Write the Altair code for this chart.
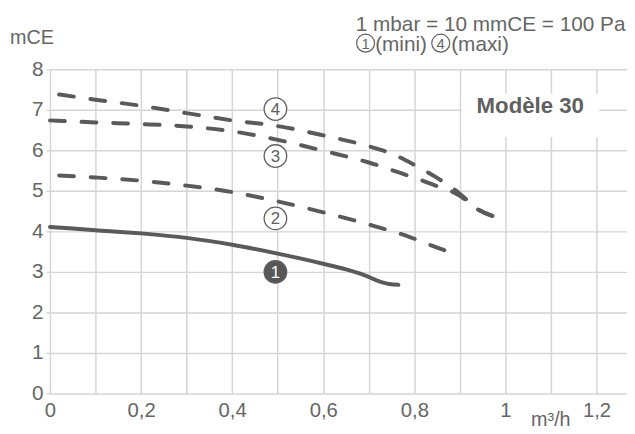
import altair as alt
import pandas as pd

# ---- curve data (débit m3/h, hauteur mCE) ----
c1_q = [0.0, 0.1, 0.2, 0.3, 0.4, 0.5, 0.6, 0.65, 0.69, 0.72, 0.745, 0.765]
c1_h = [4.11, 4.03, 3.95, 3.84, 3.67, 3.45, 3.20, 3.06, 2.92, 2.78, 2.70, 2.68]

c2_q = [0.02, 0.1, 0.2, 0.3, 0.4, 0.5, 0.6, 0.7, 0.79, 0.85, 0.875]
c2_h = [5.38, 5.33, 5.25, 5.13, 4.97, 4.74, 4.47, 4.17, 3.86, 3.60, 3.50]

c3_q = [0.0, 0.1, 0.2, 0.3, 0.4, 0.5, 0.6, 0.7, 0.78, 0.84, 0.9, 0.94, 0.98]
c3_h = [6.74, 6.69, 6.65, 6.59, 6.47, 6.26, 5.99, 5.70, 5.40, 5.16, 4.88, 4.54, 4.35]

c4_q = [0.02, 0.1, 0.2, 0.3, 0.4, 0.5, 0.6, 0.7, 0.75, 0.8, 0.85, 0.9, 0.94, 0.98]
c4_h = [7.38, 7.25, 7.10, 6.92, 6.74, 6.60, 6.37, 6.10, 5.92, 5.64, 5.32, 4.93, 4.54, 4.35]

# ---- axis ticks ----
x_ticks = [0, 0.1, 0.2, 0.3, 0.4, 0.5, 0.6, 0.7, 0.8, 0.9, 1.0, 1.1, 1.2]
y_ticks = [0, 1, 2, 3, 4, 5, 6, 7, 8]

# ---- curve number badges ----
badge_num = ["4", "3", "2", "1"]
badge_q = [0.495, 0.495, 0.495, 0.495]
badge_h = [7.02, 5.86, 4.32, 3.00]
badge_fill = ["white", "white", "white", "#575757"]
badge_text = ["#606060", "#606060", "#606060", "white"]

# ---- legend (top) ----
leg_num = ["1", "4"]
leg_q = [0.693, 0.858]
leg_words = ["(mini)", "(maxi)"]
leg_word_q = [0.714, 0.881]
leg_h = 8.646
unit_text = "1 mbar = 10 mmCE = 100 Pa"

model_text = "Modèle 30"

FONT = "Liberation Sans"
GREY = "#666666"
LINE = "#5a5a5a"
GRID = "#d5d5d5"

rows = []
for name, qs, hs in [("1", c1_q, c1_h), ("2", c2_q, c2_h), ("3", c3_q, c3_h), ("4", c4_q, c4_h)]:
    for q, h in zip(qs, hs):
        rows.append({"curve": name, "q": q, "h": h})
curves = pd.DataFrame(rows)

xs = alt.Scale(domain=[0, 1.267], nice=False, zero=False)
ys = alt.Scale(domain=[0, 8], nice=False, zero=False)

x_axis = alt.Axis(
    values=x_ticks,
    labelExpr="round(datum.value*10) % 2 == 0 ? replace(format(datum.value, '.1~f'), '.', ',') : ''",
    grid=True, gridColor=GRID, gridWidth=1.5,
    ticks=False, tickSize=0, domain=False,
    labelFont=FONT, labelFontSize=20.5, labelColor=GREY,
    labelPadding=7, labelFlush=False, labelOverlap=False, title=None,
)
y_axis = alt.Axis(
    values=y_ticks, format="d",
    grid=True, gridColor=GRID, gridWidth=1.5,
    ticks=True, tickSize=4, tickColor=GRID, tickWidth=1.5, domain=False,
    labelFont=FONT, labelFontSize=21, labelColor=GREY,
    labelPadding=3, labelFlush=False, labelOverlap=False, title=None,
)


def X(field):
    return alt.X(field, scale=xs, axis=x_axis, title=None)


def Y(field):
    return alt.Y(field, scale=ys, axis=y_axis, title=None)


solid = alt.Chart(curves[curves.curve == "1"]).mark_line(
    interpolate="monotone", strokeWidth=4, color=LINE, strokeCap="round"
).encode(x=X("q:Q"), y=Y("h:Q"), order="q:Q")

dashed = alt.Chart(curves[curves.curve != "1"]).mark_line(
    interpolate="monotone", strokeWidth=4, color=LINE, strokeCap="round",
    strokeDash=[15, 17]
).encode(x=X("q:Q"), y=Y("h:Q"), detail="curve:N", order="q:Q")

# white box behind the model name
box = pd.DataFrame({"q1": [0.904], "q2": [1.206], "h1": [6.33], "h2": [7.40]})
box_layer = alt.Chart(box).mark_rect(fill="white").encode(
    x=X("q1:Q"), x2="q2", y=Y("h1:Q"), y2="h2",
)

model = pd.DataFrame({"q": [1.0546], "h": [7.085], "t": [model_text]})
model_layer = alt.Chart(model).mark_text(
    font=FONT, fontSize=22.5, fontWeight="bold", color="#606060", baseline="middle", align="center"
).encode(x=X("q:Q"), y=Y("h:Q"), text="t:N")

badges = pd.DataFrame({"n": badge_num, "q": badge_q, "h": badge_h, "fill": badge_fill, "tc": badge_text})
badge_circles = alt.Chart(badges).mark_point(
    shape="circle", filled=True, size=520, stroke="#606060", strokeWidth=1.3, opacity=1
).encode(x=X("q:Q"), y=Y("h:Q"), fill=alt.Fill("fill:N", scale=None))
badge_digits = alt.Chart(badges).mark_text(
    font=FONT, fontSize=17, baseline="middle", align="center", dy=1
).encode(x=X("q:Q"), y=Y("h:Q"), text="n:N", color=alt.Color("tc:N", scale=None))

legc = pd.DataFrame({"n": leg_num, "q": leg_q, "h": [leg_h, leg_h]})
leg_circles = alt.Chart(legc).mark_point(
    shape="circle", filled=True, size=330, fill="white", stroke="#606060", strokeWidth=1.2, opacity=1
).encode(x=X("q:Q"), y=Y("h:Q"))
leg_digits = alt.Chart(legc).mark_text(
    font=FONT, fontSize=15, baseline="middle", align="center", color=GREY, dy=1
).encode(x=X("q:Q"), y=Y("h:Q"), text="n:N")

legw = pd.DataFrame({"t": leg_words, "q": leg_word_q, "h": [leg_h, leg_h]})
leg_words_layer = alt.Chart(legw).mark_text(
    font=FONT, fontSize=21, baseline="middle", align="left", color=GREY, dy=2
).encode(x=X("q:Q"), y=Y("h:Q"), text="t:N")

note_unit_df = pd.DataFrame({"t": [unit_text], "q": [1.2636], "h": [9.10]})
note_mce_df = pd.DataFrame({"t": ["mCE"], "q": [-0.0879], "h": [8.77]})
note_flow_df = pd.DataFrame({"t": ["m³/h"], "q": [1.0998], "h": [-0.66]})

note_unit = alt.Chart(note_unit_df).mark_text(
    font=FONT, fontSize=21, baseline="middle", align="right", color=GREY
).encode(x=X("q:Q"), y=Y("h:Q"), text="t:N")
note_mce = alt.Chart(note_mce_df).mark_text(
    font=FONT, fontSize=20, baseline="middle", align="left", color=GREY
).encode(x=X("q:Q"), y=Y("h:Q"), text="t:N")
note_flow = alt.Chart(note_flow_df).mark_text(
    font=FONT, fontSize=20, baseline="middle", align="center", color=GREY
).encode(x=X("q:Q"), y=Y("h:Q"), text="t:N")

chart = alt.layer(
    solid, dashed, box_layer, model_layer,
    badge_circles, badge_digits,
    leg_circles, leg_digits, leg_words_layer,
    note_unit, note_mce, note_flow,
).properties(
    width=584, height=328,
    padding={"left": 42.5, "top": 59.5, "right": 0, "bottom": 39},
    autosize=alt.AutoSizeParams(type="none"),
    background="white",
).configure_view(stroke=None)

chart.save("out.html", embed_options={"renderer": "svg", "actions": False})
